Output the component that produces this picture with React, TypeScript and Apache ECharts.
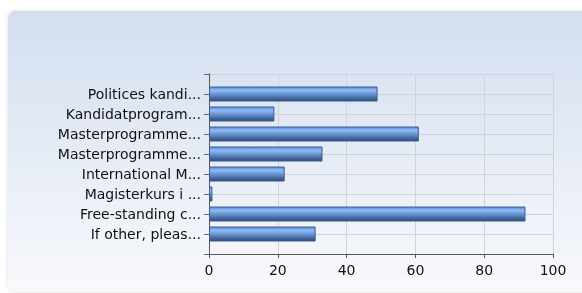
import React, { useEffect, useRef } from "react";
import * as echarts from "echarts";

const categories = [
  "Politices kandi...",
  "Kandidatprogram...",
  "Masterprogramme...",
  "Masterprogramme...",
  "International M...",
  "Magisterkurs i ...",
  "Free-standing c...",
  "If other, pleas...",
];
const values = [49, 19, 61, 33, 22, 1, 92, 31];
const xTicks = [0, 20, 40, 60, 80, 100];

export default function App() {
  const ref = useRef<HTMLDivElement>(null);
  useEffect(() => {
    document.body.style.margin = "0";
    document.body.style.background = "#ffffff";
    const chart = echarts.init(ref.current!, null, { renderer: "svg" });
    const yData = ["", ...categories, ""];
    const barData: any[] = ["-", ...values, "-"];
    chart.setOption({
      animation: false,
      graphic: [
        {
          type: "rect",
          z: -10,
          silent: true,
          shape: { x: 8, y: 11, width: 600, height: 281, r: 7 },
          style: {
            fill: new echarts.graphic.LinearGradient(0, 0, 0, 1, [
              { offset: 0, color: "#d3deef" },
              { offset: 1, color: "#f8f9fc" },
            ]),
            shadowBlur: 4,
            shadowColor: "rgba(0,0,0,0.12)",
          },
        },
      ],
      grid: { left: 209, top: 74, width: 344, height: 180, containLabel: false },
      xAxis: {
        type: "value",
        min: xTicks[0],
        max: xTicks[xTicks.length - 1],
        interval: 20,
        axisLine: { show: true, lineStyle: { color: "#555555", width: 1 } },
        axisTick: { show: true, length: 4, lineStyle: { color: "#555555" } },
        axisLabel: {
          margin: 9,
          fontFamily: "DejaVu Sans",
          fontSize: 14,
          color: "#111111",
        },
        splitLine: { show: true, lineStyle: { color: "#cfd4dc", width: 1 } },
      },
      yAxis: {
        type: "category",
        data: yData,
        inverse: true,
        boundaryGap: false,
        axisLine: { show: true, lineStyle: { color: "#555555", width: 1 } },
        axisTick: { show: true, length: 5, lineStyle: { color: "#666666" } },
        axisLabel: {
          margin: 8,
          fontFamily: "DejaVu Sans",
          fontSize: 14,
          color: "#111111",
        },
        splitLine: { show: true, lineStyle: { color: "#cfd4dc", width: 1 } },
      },
      series: [
        {
          type: "bar",
          data: barData,
          barWidth: 15,
          itemStyle: {
            color: new echarts.graphic.LinearGradient(0, 0, 0, 1, [
              { offset: 0, color: "#5a8edc" },
              { offset: 0.25, color: "#8fbaf4" },
              { offset: 0.5, color: "#6a95d4" },
              { offset: 1, color: "#2b4a7a" },
            ]),
            borderColor: "#3f5f90",
            borderWidth: 1,
          },
        },
      ],
    });
    return () => chart.dispose();
  }, []);
  return (
    <div
      ref={ref}
      style={{ position: "fixed", left: 0, top: 0, width: 582, height: 293 }}
    />
  );
}
